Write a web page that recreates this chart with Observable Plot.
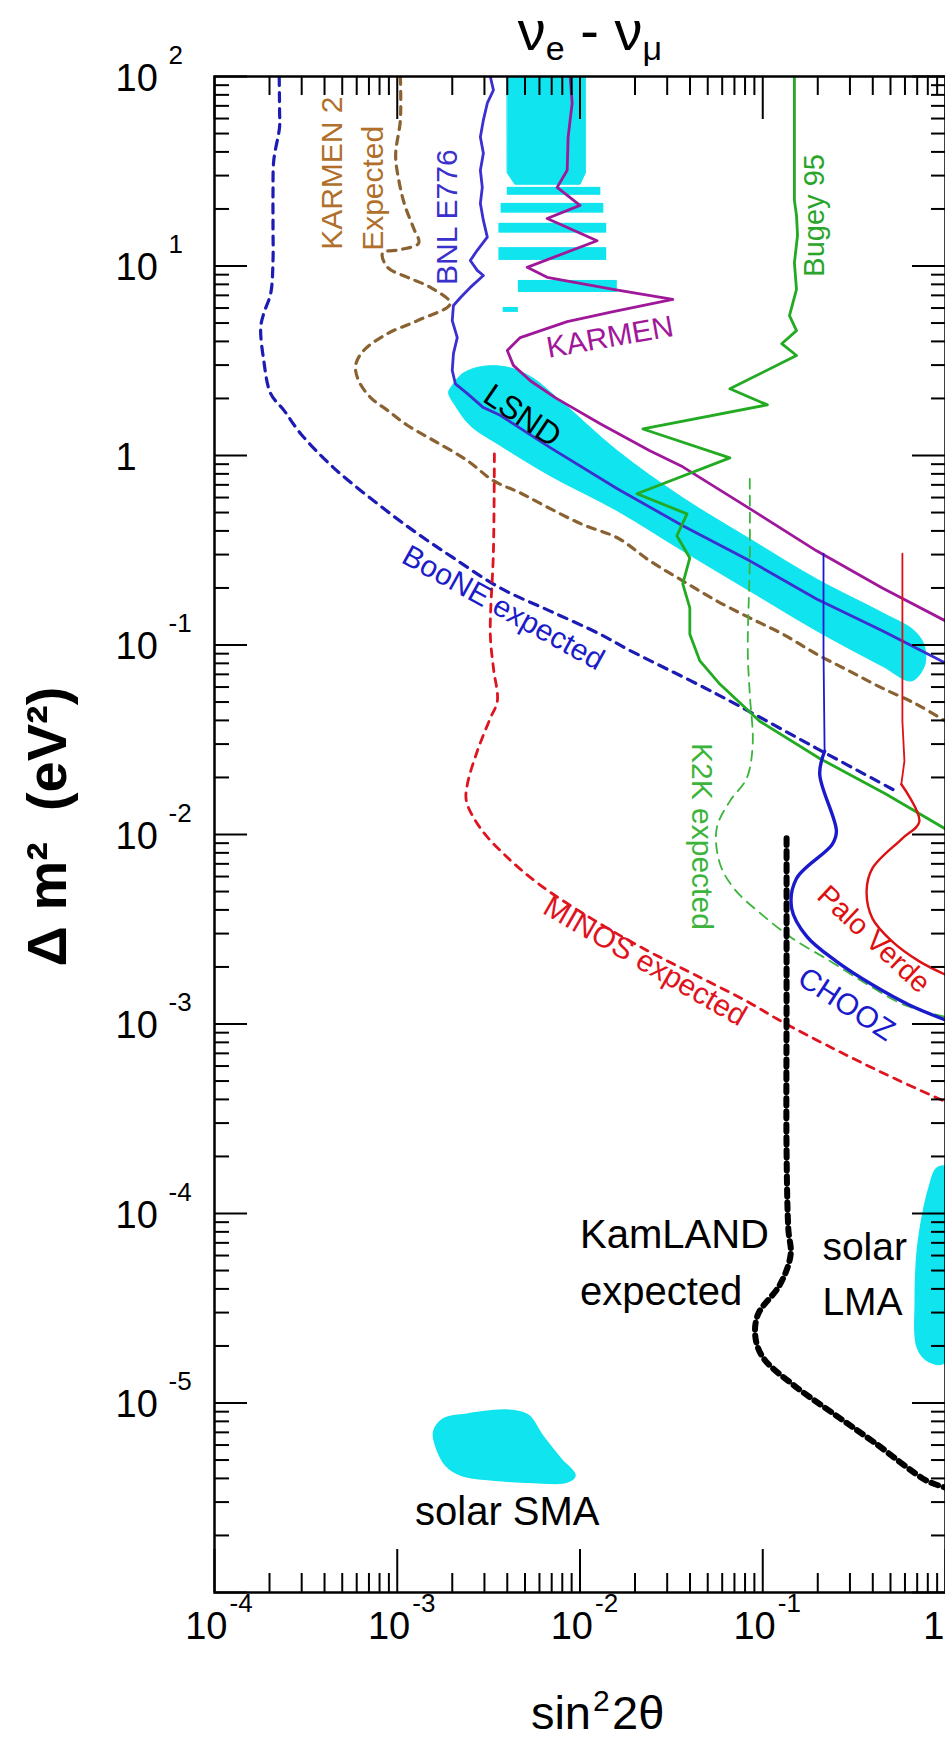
<!DOCTYPE html>
<html><head><meta charset="utf-8">
<script src="https://cdn.jsdelivr.net/npm/d3@7"></script>
<script src="https://cdn.jsdelivr.net/npm/@observablehq/plot@0.6"></script>
<style>
body{margin:0;background:#fff;}
#wrap{position:relative;width:945px;height:1762px;font-family:"Liberation Sans",Arial,sans-serif;overflow:hidden;}
#wrap svg{position:absolute;left:0;top:0;}
#title{position:absolute;left:390px;width:400px;top:0px;text-align:center;font-size:56px;line-height:62px;z-index:2;}
#title sub{font-size:34px;vertical-align:-10px;line-height:0;}
</style></head><body>
<div id="wrap"><div id="title">ν<sub>e</sub> - ν<sub>μ</sub></div></div>
<script>
// ---- axis ticks / labels ----
const xTickValues = [1e-4, 1e-3, 1e-2, 1e-1, 1];
const xTickBase = ["10", "10", "10", "10", "1"];
const xTickExp = ["-4", "-3", "-2", "-1", ""];
const yTickValues = [1e2, 1e1, 1, 1e-1, 1e-2, 1e-3, 1e-4, 1e-5];
const yTickBase = ["10", "10", "1", "10", "10", "10", "10", "10"];
const yTickExp = ["2", "1", "", "-1", "-2", "-3", "-4", "-5"];
const yDecades = [1e-6, 1e-5, 1e-4, 1e-3, 1e-2, 1e-1, 1, 1e1, 1e2];
const minorMult = [2, 3, 4, 5, 6, 7, 8, 9];

// ---- BooNE expected ----
const booneX = [2.26e-4, 2.27e-4, 2.27e-4, 2.11e-4, 2.09e-4, 2.09e-4, 2.09e-4, 2.03e-4, 1.86e-4, 1.79e-4, 1.86e-4, 2.03e-4, 2.40e-4, 2.97e-4, 4.49e-4, 7.43e-4, 1.23e-3, 2.03e-3, 3.66e-3, 6.87e-3, 1.29e-2, 1.81e-2, 5.60e-2, 1.97e-1, 5.38e-1];
const booneY = [100, 66.4, 54.1, 36.1, 24.2, 16.0, 10.7, 7.16, 5.62, 4.74, 3.17, 2.12, 1.73, 1.30, 0.861, 0.577, 0.400, 0.288, 0.200, 0.151, 0.114, 0.0953, 0.0551, 0.0285, 0.0169];

// ---- KARMEN 2 expected ----
const karmen2X = [1.04e-3, 1.04e-3, 9.80e-4, 1.02e-3, 1.10e-3, 1.23e-3, 1.31e-3, 1.04e-3, 8.31e-4, 8.85e-4, 1.14e-3, 1.52e-3, 1.95e-3, 1.29e-3, 8.85e-4, 6.55e-4, 5.92e-4, 6.15e-4, 7.15e-4, 8.85e-4, 1.14e-3, 1.58e-3, 2.42e-3, 3.36e-3, 4.71e-3, 6.87e-3, 1.04e-2, 1.60e-2, 2.41e-2, 3.65e-2, 5.60e-2, 8.49e-2, 0.129, 0.197, 0.298, 0.451, 0.692, 1.0];
const karmen2Y = [100, 58.9, 38.5, 28.3, 20.9, 15.8, 13.2, 12.2, 11.7, 9.84, 8.71, 7.71, 6.34, 5.15, 4.40, 3.58, 2.99, 2.48, 2.02, 1.73, 1.44, 1.20, 0.940, 0.736, 0.635, 0.524, 0.431, 0.368, 0.278, 0.218, 0.171, 0.139, 0.114, 0.0895, 0.0728, 0.0592, 0.0488, 0.0396];

// ---- BNL E776 ----
const bnlX = [3.23e-3, 3.36e-3, 3.11e-3, 2.96e-3, 2.85e-3, 2.96e-3, 2.85e-3, 2.92e-3, 2.85e-3, 2.96e-3, 3.11e-3, 2.74e-3, 2.51e-3, 2.74e-3, 2.96e-3, 2.51e-3, 2.22e-3, 2.03e-3, 2.00e-3, 2.13e-3, 2.03e-3, 2.00e-3, 2.08e-3, 2.42e-3, 2.96e-3, 3.66e-3, 6.87e-3, 1.60e-2, 3.65e-2, 8.49e-2, 0.197, 0.451, 1.0];
const bnlY = [100, 84.7, 72.3, 58.9, 47.9, 39.4, 32.0, 26.0, 21.4, 17.4, 14.2, 12.1, 10.7, 9.48, 8.91, 7.71, 6.82, 6.19, 5.15, 4.19, 3.45, 2.81, 2.39, 2.12, 1.79, 1.63, 1.10, 0.668, 0.426, 0.278, 0.175, 0.119, 0.0804];

// ---- KARMEN ----
const karmenX = [8.83e-3, 9.06e-3, 8.61e-3, 8.51e-3, 7.50e-3, 1.00e-2, 6.61e-3, 1.24e-2, 5.14e-3, 6.61e-3, 1.52e-2, 3.22e-2, 1.52e-2, 8.51e-3, 4.71e-3, 4.00e-3, 4.32e-3, 5.35e-3, 7.31e-3, 1.29e-2, 2.41e-2, 3.65e-2, 8.49e-2, 0.197, 0.451, 1.0];
const karmenY = [100, 72.3, 47.9, 32.0, 26.0, 20.9, 17.8, 13.6, 9.84, 8.71, 7.52, 6.66, 5.75, 5.09, 4.19, 3.58, 2.99, 2.48, 2.02, 1.47, 1.06, 0.871, 0.524, 0.314, 0.200, 0.134];

// ---- Bugey 95 ----
const bugeyX = [0.149, 0.149, 0.153, 0.155, 0.149, 0.153, 0.140, 0.153, 0.127, 0.153, 0.0661, 0.106, 0.0221, 0.0661, 0.0205, 0.0385, 0.0339, 0.0399, 0.0365, 0.0399, 0.0399, 0.0453, 0.0582, 0.0962, 0.205, 0.474, 1.0];
const bugeyY = [100, 22.2, 18.5, 14.5, 10.4, 7.52, 5.47, 4.56, 3.89, 3.37, 2.25, 1.85, 1.38, 0.972, 0.628, 0.492, 0.377, 0.288, 0.210, 0.157, 0.114, 0.0824, 0.0622, 0.0396, 0.0252, 0.0163, 0.0107];

// ---- K2K expected ----
const k2kX = [0.0849, 0.0849, 0.0828, 0.0849, 0.0881, 0.0817, 0.0661, 0.0560, 0.0582, 0.0703, 0.0986, 0.146, 0.226, 0.365, 0.596, 1.0];
const k2kY = [0.753, 0.278, 0.0929, 0.0551, 0.0300, 0.0198, 0.0150, 0.0108, 7.05e-3, 5.13e-3, 3.79e-3, 2.82e-3, 2.19e-3, 1.64e-3, 1.26e-3, 1.09e-3];

// ---- CHOOZ ----
const choozX = [0.215, 0.215, 0.218, 0.205, 0.253, 0.240, 0.153, 0.144, 0.174, 0.253, 0.398, 0.634, 1.0];
const choozY = [0.303, 0.0929, 0.0275, 0.0208, 0.0104, 8.87e-3, 5.86e-3, 4.07e-3, 2.90e-3, 2.14e-3, 1.61e-3, 1.26e-3, 1.05e-3];

// ---- Palo Verde ----
const paloX = [0.581, 0.581, 0.581, 0.596, 0.573, 0.719, 0.581, 0.398, 0.370, 0.398, 0.512, 0.719, 1.0];
const paloY = [0.303, 0.0929, 0.0396, 0.0244, 0.0184, 0.0117, 9.55e-3, 6.62e-3, 5.01e-3, 3.61e-3, 2.72e-3, 2.14e-3, 1.82e-3];

// ---- MINOS expected ----
const minosX = [3.40e-3, 3.36e-3, 3.23e-3, 3.36e-3, 3.53e-3, 3.23e-3, 2.74e-3, 2.42e-3, 2.39e-3, 2.85e-3, 3.85e-3, 5.98e-3, 1.15e-2, 2.21e-2, 4.25e-2, 8.28e-2, 0.127, 0.244, 0.474, 1.0];
const minosY = [1.02, 0.314, 0.114, 0.0755, 0.0506, 0.0411, 0.0275, 0.0184, 0.0150, 0.0108, 7.85e-3, 5.46e-3, 3.61e-3, 2.51e-3, 1.82e-3, 1.31e-3, 1.03e-3, 7.41e-4, 5.41e-4, 3.89e-4];

// ---- KamLAND expected ----
const kamX = [0.135, 0.135, 0.135, 0.138, 0.142, 0.124, 0.0938, 0.0915, 0.102, 0.148, 0.238, 0.408, 0.786, 1.0];
const kamY = [9.55e-3, 1.32e-3, 2.12e-4, 8.30e-5, 6.04e-5, 4.20e-5, 2.91e-5, 2.17e-5, 1.70e-5, 1.24e-5, 8.93e-6, 6.19e-6, 3.90e-6, 3.58e-6];

// ---- LSND allowed regions ----
const lsndBandX = [2.00e-3, 2.27e-3, 2.85e-3, 3.90e-3, 5.35e-3, 7.79e-3, 1.60e-2, 3.65e-2, 8.49e-2, 0.197, 0.451, 0.674, 0.766, 0.766, 0.650, 0.451, 0.197, 0.0849, 0.0365, 0.0160, 6.87e-3, 3.66e-3, 2.51e-3, 2.08e-3, 1.91e-3];
const lsndBandY = [2.34, 2.70, 2.94, 2.94, 2.61, 1.95, 1.06, 0.598, 0.363, 0.223, 0.148, 0.119, 0.0989, 0.0774, 0.0646, 0.0774, 0.119, 0.193, 0.314, 0.511, 0.782, 1.13, 1.44, 1.83, 2.15];
const lsndTopX = [4.0e-3, 1.07e-2, 1.07e-2, 1.00e-2, 4.4e-3, 4.0e-3];
const lsndTopY = [100, 100, 31, 27, 27, 31];
const stripeX1 = [4.0e-3, 3.7e-3, 3.6e-3, 3.6e-3, 4.6e-3, 3.8e-3];
const stripeX2 = [1.30e-2, 1.35e-2, 1.40e-2, 1.40e-2, 1.60e-2, 4.6e-3];
const stripeY1 = [23.6, 19.0, 14.9, 10.7, 7.25, 5.69];
const stripeY2 = [26.0, 21.4, 16.8, 12.5, 8.39, 6.04];

// ---- solar regions ----
const lmaX = [0.889, 1.0, 1.0, 0.815, 0.700, 0.683, 0.700, 0.755, 0.815];
const lmaY = [1.72e-4, 1.76e-4, 1.65e-5, 1.65e-5, 1.97e-5, 3.41e-5, 6.27e-5, 1.02e-4, 1.38e-4];
const smaX = [1.58e-3, 1.77e-3, 2.39e-3, 4.10e-3, 5.21e-3, 6.21e-3, 7.89e-3, 9.40e-3, 8.39e-3, 5.55e-3, 3.44e-3, 2.24e-3, 1.84e-3, 1.62e-3];
const smaY = [7.02e-6, 8.20e-6, 8.73e-6, 9.16e-6, 8.63e-6, 6.76e-6, 5.05e-6, 4.15e-6, 3.81e-6, 3.81e-6, 3.91e-6, 4.15e-6, 4.69e-6, 5.98e-6];

// ---- annotations (text + anchor in data coordinates) ----
const labelText = ["KARMEN 2", "Expected", "BNL E776", "Bugey 95", "KARMEN", "LSND", "BooNE expected", "K2K expected", "MINOS expected", "Palo Verde", "CHOOZ", "KamLAND", "expected", "solar", "LMA", "solar SMA"];
const labelX = [4.44e-4, 7.43e-4, 1.88e-3, 0.192, 1.46e-2, 4.83e-3, 3.80e-3, 4.64e-2, 2.27e-2, 0.405, 0.287, 1.0e-2, 1.0e-2, 0.212, 0.212, 4.0e-3];
const labelY = [30.9, 25.7, 18.1, 18.5, 4.20, 1.62, 0.157, 9.77e-3, 2.14e-3, 2.80e-3, 1.27e-3, 7.71e-5, 3.85e-5, 6.58e-5, 3.37e-5, 2.65e-6];

// ---- axis titles ----
const xTitleParts = ["sin", "2", "2θ"];
const yTitle = "Δ\u00a0m²\u00a0\u00a0(eV²)";

// ---------------------------------------------------------
const W = 945, H = 1762, mL = 214, mR = 0, mT = 76, mB = 170;
const iw = W - mL - mR, ih = H - mT - mB;
const pts = (X, Y) => X.map((x, i) => [x, Y[i]]);
const xMinor = xTickValues.slice(0, -1).flatMap(d => minorMult.map(k => k * d));
const yMinor = yDecades.slice(0, -1).flatMap(d => minorMult.map(k => k * d));
const lab = (i, o) => Plot.text([i], {x: j => labelX[j], y: j => labelY[j], text: j => labelText[j], fontSize: 30, ...o});
const cyan = "#10e4ee";

const chart = Plot.plot({
  width: W, height: H,
  marginLeft: mL, marginRight: mR, marginTop: mT, marginBottom: mB,
  style: {fontFamily: "'Liberation Sans', Arial, sans-serif", background: "transparent", overflow: "visible"},
  x: {type: "log", domain: [1e-4, 1], axis: null},
  y: {type: "log", domain: [1e-6, 1e2], axis: null},
  marks: [
    // filled regions
    Plot.line(pts(lsndTopX, lsndTopY), {curve: "linear-closed", fill: cyan, stroke: cyan, strokeWidth: 1, clip: true}),
    Plot.rect(d3.range(stripeX1.length), {x1: i => stripeX1[i], x2: i => stripeX2[i], y1: i => stripeY1[i], y2: i => stripeY2[i], fill: cyan, clip: true}),
    Plot.line(pts(lsndBandX, lsndBandY), {curve: "catmull-rom-closed", fill: cyan, stroke: cyan, strokeWidth: 1, clip: true}),
    Plot.line(pts(smaX, smaY), {curve: "catmull-rom-closed", fill: cyan, stroke: cyan, clip: true}),
    Plot.line(pts(lmaX, lmaY), {curve: "catmull-rom-closed", fill: cyan, stroke: cyan, clip: true}),
    // expected sensitivities (dashed)
    Plot.line(pts(booneX, booneY), {curve: "catmull-rom", stroke: "#1c1cb4", strokeWidth: 3.2, strokeDasharray: "9,7", clip: true}),
    Plot.line(pts(karmen2X, karmen2Y), {curve: "catmull-rom", stroke: "#8a6232", strokeWidth: 3.2, strokeDasharray: "8,7", clip: true}),
    Plot.line(pts(minosX, minosY), {curve: "catmull-rom", stroke: "#e0141e", strokeWidth: 2.8, strokeDasharray: "8,7", clip: true}),
    Plot.line(pts(k2kX, k2kY), {curve: "catmull-rom", stroke: "#3cb43c", strokeWidth: 1.8, strokeDasharray: "10,7", clip: true}),
    Plot.line(pts(kamX, kamY), {curve: "catmull-rom", stroke: "#000", strokeWidth: 6, strokeDasharray: "7,6", clip: true}),
    // exclusion limits (solid)
    Plot.line(pts(bnlX, bnlY), {stroke: "#3a2fd0", strokeWidth: 2.8, clip: true}),
    Plot.line(pts(karmenX, karmenY), {stroke: "#a0189a", strokeWidth: 2.8, clip: true}),
    Plot.line(pts(bugeyX, bugeyY), {stroke: "#22aa22", strokeWidth: 2.8, clip: true}),
    Plot.line(pts(choozX, choozY).slice(0, 3), {stroke: "#1a1acc", strokeWidth: 1.8, clip: true}),
    Plot.line(pts(choozX, choozY).slice(2), {curve: "catmull-rom", stroke: "#1a1acc", strokeWidth: 3.4, clip: true}),
    Plot.line(pts(paloX, paloY).slice(0, 5), {stroke: "#dd1111", strokeWidth: 1.8, clip: true}),
    Plot.line(pts(paloX, paloY).slice(4), {curve: "catmull-rom", stroke: "#dd1111", strokeWidth: 2.4, clip: true}),
    // labels
    lab(0, {rotate: -90, fill: "#b0702c"}),
    lab(1, {rotate: -90, fill: "#b0702c"}),
    lab(2, {rotate: -90, fill: "#3a30cc"}),
    lab(3, {rotate: -90, fill: "#2aa52a", fontSize: 29}),
    lab(4, {rotate: -10, fill: "#a0189a"}),
    lab(5, {rotate: 34, fill: "#000", fontSize: 32}),
    lab(6, {rotate: 29, fill: "#1c1cc8"}),
    lab(7, {rotate: 90, fill: "#3cb43c"}),
    lab(8, {rotate: 30, fill: "#e0141e"}),
    lab(9, {rotate: 43, fill: "#dd1111", fontSize: 29}),
    lab(10, {rotate: 33, fill: "#1a1acc"}),
    lab(11, {textAnchor: "start", fill: "#000", fontSize: 40}),
    lab(12, {textAnchor: "start", fill: "#000", fontSize: 40}),
    lab(13, {textAnchor: "start", fill: "#000", fontSize: 39}),
    lab(14, {textAnchor: "start", fill: "#000", fontSize: 39}),
    lab(15, {fill: "#000", fontSize: 40}),
    // ticks (inward)
    Plot.tickX(xTickValues, {x: d => d, insetTop: ih - 43, stroke: "#000", strokeWidth: 2}),
    Plot.tickX(xMinor, {x: d => d, insetTop: ih - 19, stroke: "#000", strokeWidth: 2}),
    Plot.tickX(xTickValues, {x: d => d, insetBottom: ih - 43, stroke: "#000", strokeWidth: 2}),
    Plot.tickX(xMinor, {x: d => d, insetBottom: ih - 19, stroke: "#000", strokeWidth: 2}),
    Plot.tickY(yDecades, {y: d => d, insetRight: iw - 33, stroke: "#000", strokeWidth: 2}),
    Plot.tickY(yMinor, {y: d => d, insetRight: iw - 15, stroke: "#000", strokeWidth: 2}),
    Plot.tickY(yDecades, {y: d => d, insetLeft: iw - 33, stroke: "#000", strokeWidth: 2}),
    Plot.tickY(yMinor, {y: d => d, insetLeft: iw - 14, stroke: "#000", strokeWidth: 2}),
    Plot.frame({stroke: "#000", strokeWidth: 2.5}),
    // tick labels
    Plot.text(yTickValues, {y: d => d, text: (d, i) => yTickBase[i], frameAnchor: "left", textAnchor: "start", dx: -99, dy: 2, fontSize: 38, fill: "#000"}),
    Plot.text(yTickValues, {y: d => d, text: (d, i) => yTickExp[i], frameAnchor: "left", textAnchor: "start", dx: -46, dy: -21, fontSize: 26, fill: "#000"}),
    Plot.text(xTickValues.slice(0, 4), {x: d => d, text: (d, i) => xTickBase[i], frameAnchor: "bottom", textAnchor: "end", dx: 13, dy: 46, fontSize: 38, fill: "#000"}),
    Plot.text(xTickValues.slice(4), {x: d => d, text: () => xTickBase[4], frameAnchor: "bottom", textAnchor: "end", dx: -1, dy: 46, fontSize: 38, fill: "#000"}),
    Plot.text(xTickValues, {x: d => d, text: (d, i) => xTickExp[i], frameAnchor: "bottom", textAnchor: "start", dx: 15, dy: 19, fontSize: 26, fill: "#000"}),
    // axis titles
    Plot.text([xTitleParts[0]], {frameAnchor: "bottom", textAnchor: "end", dx: 11, dy: 136, fontSize: 47, fill: "#000"}),
    Plot.text([xTitleParts[1]], {frameAnchor: "bottom", textAnchor: "start", dx: 13, dy: 118, fontSize: 30, fill: "#000"}),
    Plot.text([xTitleParts[2]], {frameAnchor: "bottom", textAnchor: "start", dx: 32, dy: 136, fontSize: 47, fill: "#000"}),
    Plot.text([yTitle], {frameAnchor: "left", textAnchor: "middle", dx: -166, dy: -8, rotate: -90, fontSize: 56, fontWeight: "bold", fill: "#000"})
  ]
});
document.getElementById("wrap").appendChild(chart);
</script>
</body></html>
